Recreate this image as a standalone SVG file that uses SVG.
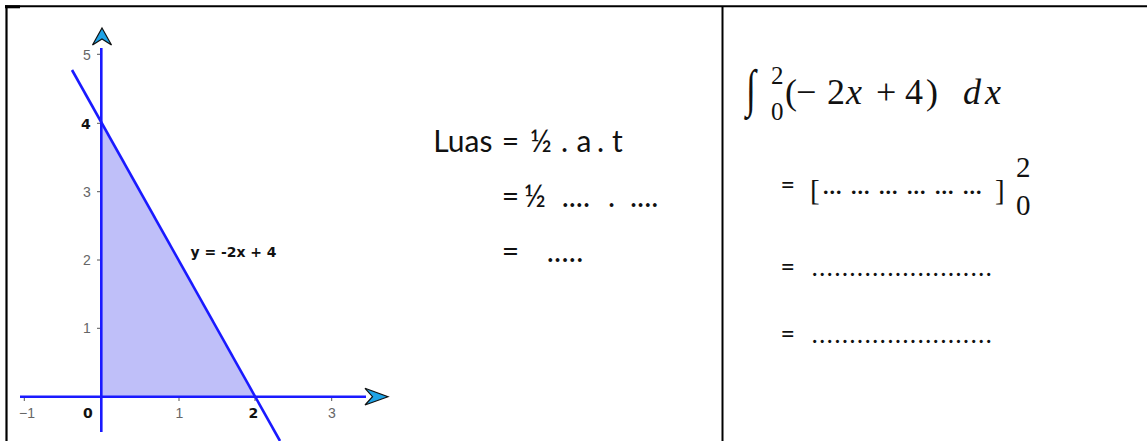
<svg xmlns="http://www.w3.org/2000/svg" width="1147" height="441" viewBox="0 0 1147 441">
<style>
.border{stroke:#000;fill:none}
.ax{stroke:#1a1aff;stroke-width:2.6;fill:none}
.tick{stroke:#555;stroke-width:1}
.tl{font-family:"Liberation Sans",Arial,sans-serif;font-size:14px;fill:#666}
.tb{font-family:"DejaVu Sans",sans-serif;font-size:14px;font-weight:bold;fill:#111}
.arrow{fill:#1ea3e6;stroke:#111;stroke-width:1.2;stroke-linejoin:miter}
.mid{font-family:Lato,"Open Sans",sans-serif;font-size:30px;fill:#111}
.rt{font-family:Lato,"Open Sans",sans-serif;font-size:25px;fill:#111}
.m{font-family:"Liberation Serif","DejaVu Serif",serif;font-size:36px;fill:#111}
.mi{font-family:"Liberation Serif","DejaVu Serif",serif;font-size:36px;font-style:italic;fill:#111}
.ms{font-family:"Liberation Serif","DejaVu Serif",serif;font-size:25px;fill:#111}
.mb{font-family:"Liberation Serif","DejaVu Serif",serif;font-size:29px;fill:#111}
.el{font-family:"Liberation Serif","DejaVu Serif",serif;font-size:30px;fill:#111}
</style>
<g id="table">
<line class="border" x1="5" y1="6.3" x2="1147" y2="6.3" stroke-width="2"/>
<line class="border" x1="5" y1="6.8" x2="20" y2="6.8" stroke-width="3"/>
<line class="border" x1="6.5" y1="5.5" x2="6.5" y2="441" stroke-width="2.2"/>
<line class="border" x1="722.5" y1="6" x2="722.5" y2="441" stroke-width="2"/>
</g>
<g id="graph">
<polygon points="101.3,396.7 101.3,122.7 254.7,396.7" fill="#bfbff9"/>
<g id="ticks">
<line class="tick" x1="97" y1="54.3" x2="101" y2="54.3"/>
<line class="tick" x1="97" y1="123.3" x2="101" y2="123.3"/>
<line class="tick" x1="97" y1="191.7" x2="101" y2="191.7"/>
<line class="tick" x1="97" y1="260" x2="101" y2="260"/>
<line class="tick" x1="97" y1="328.3" x2="101" y2="328.3"/>
<line class="tick" x1="24.3" y1="397" x2="24.3" y2="401"/>
<line class="tick" x1="179" y1="397" x2="179" y2="401"/>
<line class="tick" x1="255" y1="397" x2="255" y2="401"/>
<line class="tick" x1="331.7" y1="397" x2="331.7" y2="401"/>
</g>
<line class="ax" x1="20" y1="396.7" x2="366" y2="396.7"/>
<line class="ax" x1="101.3" y1="48" x2="101.3" y2="432"/>
<line class="ax" x1="72" y1="70" x2="280" y2="441"/>
<path class="arrow" d="M102,28 L111.5,45 L102,39 L92.5,45 Z"/>
<path class="arrow" d="M388,396.7 L365,405 L372.5,396.7 L365,388.3 Z"/>
<text class="tl" x="83" y="59.5">5</text>
<text class="tb" x="81" y="129">4</text>
<text class="tl" x="83" y="197">3</text>
<text class="tl" x="83" y="265">2</text>
<text class="tl" x="83" y="333">1</text>
<text class="tl" x="19" y="417.5">−1</text>
<text class="tb" x="83" y="417.5">0</text>
<text class="tl" x="175.5" y="417.5">1</text>
<text class="tb" x="248.5" y="417.5">2</text>
<text class="tl" x="328" y="417.5">3</text>
<text class="tb" x="190.5" y="257" textLength="86" lengthAdjust="spacingAndGlyphs">y = -2x + 4</text>
</g>
<g id="luas">
<text class="mid" x="433.3" y="151.7">Luas</text>
<text class="mid" x="501.7" y="151.7">=</text>
<text class="mid" x="530" y="151.7">½</text>
<text class="mid" x="561" y="151.7">.</text>
<text class="mid" x="576.5" y="151.7">a</text>
<text class="mid" x="597" y="151.7">.</text>
<text class="mid" x="612" y="151.7">t</text>
<text class="mid" x="501.7" y="206.7">=</text>
<text class="mid" x="524" y="206.7">½</text>
<text class="mid" x="561.7" y="206.7" textLength="28.3" lengthAdjust="spacing">....</text>
<text class="mid" x="608" y="206.7">.</text>
<text class="mid" x="630" y="206.7" textLength="28.3" lengthAdjust="spacing">....</text>
<text class="mid" x="501.7" y="261.7">=</text>
<text class="mid" x="546.7" y="261.7" textLength="36.6" lengthAdjust="spacing">.....</text>
</g>
<g id="integral">
<text class="mi" transform="translate(746,106) scale(1,1.45)" font-size="40">∫</text>
<text class="ms" x="771" y="84">2</text>
<text class="ms" x="771" y="120">0</text>
<text class="m" x="785" y="104">(</text>
<text class="m" x="796" y="104">−</text>
<text class="m" x="827" y="104">2</text>
<text class="mi" x="846" y="104">x</text>
<text class="m" x="876" y="104">+</text>
<text class="m" x="905" y="104">4</text>
<text class="m" x="926" y="104">)</text>
<text class="mi" x="963" y="104">d</text>
<text class="mi" x="985" y="104">x</text>
</g>
<g id="steps">
<text class="rt" x="780.5" y="194">=</text>
<text class="mb" x="810" y="200">[</text>
<text class="el" x="822" y="193.5" letter-spacing="-1">...</text>
<text class="el" x="850" y="193.5" letter-spacing="-1">...</text>
<text class="el" x="878" y="193.5" letter-spacing="-1">...</text>
<text class="el" x="906" y="193.5" letter-spacing="-1">...</text>
<text class="el" x="934" y="193.5" letter-spacing="-1">...</text>
<text class="el" x="962" y="193.5" letter-spacing="-1">...</text>
<text class="mb" x="995" y="200">]</text>
<text class="mb" x="1016" y="176.7">2</text>
<text class="mb" x="1016" y="215">0</text>
<text class="rt" x="780.5" y="276">=</text>
<text class="rt" x="811.7" y="276" textLength="180" lengthAdjust="spacing">........................</text>
<text class="rt" x="780.5" y="342.5">=</text>
<text class="rt" x="811.7" y="342.5" textLength="180" lengthAdjust="spacing">........................</text>
</g>
</svg>
